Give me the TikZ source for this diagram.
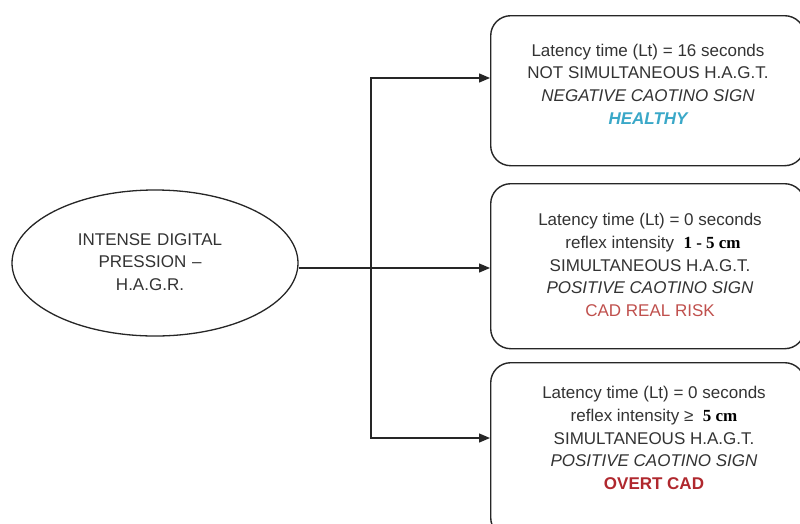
\documentclass[tikz,border=0pt]{standalone}
\usepackage{fontspec}
\setmainfont{Liberation Sans}
\newfontfamily\timesfont{Liberation Serif}
\usetikzlibrary{shapes.geometric,arrows.meta}
\definecolor{txt}{HTML}{333333}
\definecolor{healthy}{HTML}{3AA8C8}
\definecolor{risk}{HTML}{C0504D}
\definecolor{overt}{HTML}{B0282E}
\tikzset{
  box/.style={draw=black!85, line width=1.4pt, rounded corners=20pt, minimum width=314pt, anchor=north west, inner sep=0pt},
  btext/.style={text=txt, align=center, font=\fontsize{17}{22.7}\selectfont},
  conn/.style={draw=black!85, line width=1.3pt},
  arr/.style={conn, -{Triangle[length=11pt,width=9pt]}},
}
\begin{document}
\begin{tikzpicture}[x=1pt,y=-1pt]
\useasboundingbox (0,0) rectangle (800,523);
\fill[white] (0,0) rectangle (800,523);
% ellipse
\node[ellipse, draw=black!85, line width=1.3pt, minimum width=286pt, minimum height=146pt, inner sep=0pt] (src) at (155,263) {};
\node[btext, text width=200pt] (srct) at (150,262) {INTENSE DIGITAL\\PRESSION –\\H.A.G.R.};
% boxes
\node[box, minimum height=150pt] (b1) at (490,15) {};
\node[box, minimum height=165pt] (b2) at (490,183) {};
\node[box, minimum height=175pt] (b3) at (490,362) {};
\node[btext] (t1) at (648,84) {Latency time (Lt) = 16 seconds\\NOT SIMULTANEOUS H.A.G.T.\\\textit{NEGATIVE CAOTINO SIGN}\\\textcolor{healthy}{\bfseries\itshape HEALTHY}};
\node[btext] (t2) at (650,265) {Latency time (Lt) = 0 seconds\\\hspace*{6pt}reflex intensity \ {\timesfont\bfseries\color{black}1 - 5 cm}\\SIMULTANEOUS H.A.G.T.\\\textit{POSITIVE CAOTINO SIGN}\\\textcolor{risk}{CAD REAL RISK}};
\node[btext] (t3) at (654,438) {Latency time (Lt) = 0 seconds\\reflex intensity ≥ \ {\timesfont\bfseries\color{black}5 cm}\\SIMULTANEOUS H.A.G.T.\\\textit{POSITIVE CAOTINO SIGN}\\\textcolor{overt}{\bfseries OVERT CAD}};
% connectors
\coordinate (j) at (371,268);
\coordinate (j1) at (371,78);
\coordinate (j3) at (371,438);
\draw[conn] (src.east |- j) -- (j);
\draw[arr] (j) -- (b2.west |- j);
\draw[arr] (j) -- (j1) -- (b1.west |- j1);
\draw[arr] (j) -- (j3) -- (b3.west |- j3);
\end{tikzpicture}
\end{document}
